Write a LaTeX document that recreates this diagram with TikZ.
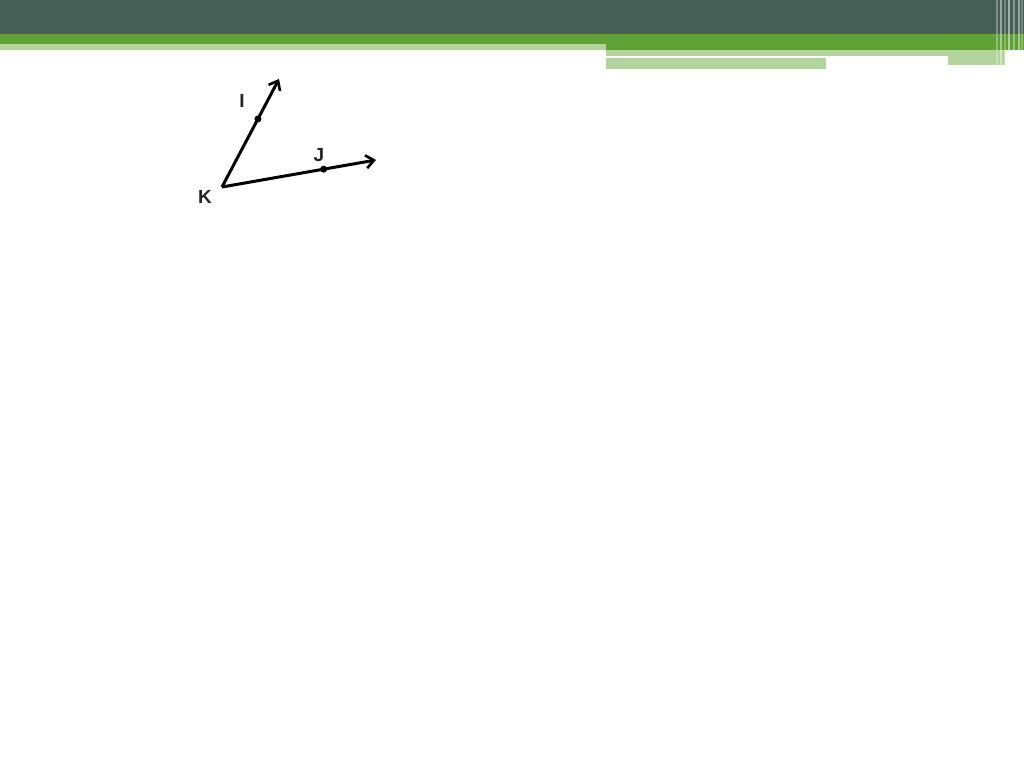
\documentclass[tikz,border=0pt]{standalone}
\usepackage{fontspec}
\setmainfont{Liberation Sans}
\usetikzlibrary{arrows.meta,calc}
\definecolor{darkbar}{HTML}{465E55}
\definecolor{greenbar}{HTML}{5FA233}
\definecolor{lightgreen}{HTML}{B3D49C}
\tikzset{
  ray/.style={line width=3pt, -{Straight Barb[length=8pt,width=13pt,line width=2.6pt]}},
  pt/.style={circle, fill=black, inner sep=0pt, minimum size=7pt},
  lbl/.style={font=\fontsize{19}{22}\selectfont\bfseries, inner sep=0pt, text=black!85}
}
\begin{document}
\begin{tikzpicture}[x=1pt,y=-1pt]
\useasboundingbox (0,0) rectangle (1024,768);
\fill[white] (0,0) rectangle (1024,768);
% header bars
\fill[darkbar] (0,0) rectangle (1024,34);
\fill[greenbar] (0,34) rectangle (1024,44);
\fill[greenbar] (606,44) rectangle (1024,50);
\fill[lightgreen] (0,44) rectangle (606,50);
\fill[lightgreen] (606,50) rectangle (1005,56);
\fill[lightgreen] (948,56) rectangle (1005,65);
\fill[lightgreen] (606,58) rectangle (826,69);
% right edge stripes
\foreach \x/\o in {996/0.3,1000/0.45,1004/0.25,1008/0.5,1013/0.35,1018/0.45,1021/0.25}{
  \fill[white, opacity=\o] (\x,0) rectangle ++(2,68);
}
% angle
\coordinate (K) at (222,187);
\coordinate (Iend) at (279,79);
\coordinate (Jend) at (376,160);
\node[pt] (I) at ($(K)!0.63!(Iend)$) {};
\node[pt] (J) at ($(K)!0.66!(Jend)$) {};
\draw[ray] (K) -- (Iend);
\draw[ray] (K) -- (Jend);
\node[lbl] (lI) at (242,101) {I};
\node[lbl] (lJ) at (319,155) {J};
\node[lbl] (lK) at (205,197) {K};
\end{tikzpicture}
\end{document}
